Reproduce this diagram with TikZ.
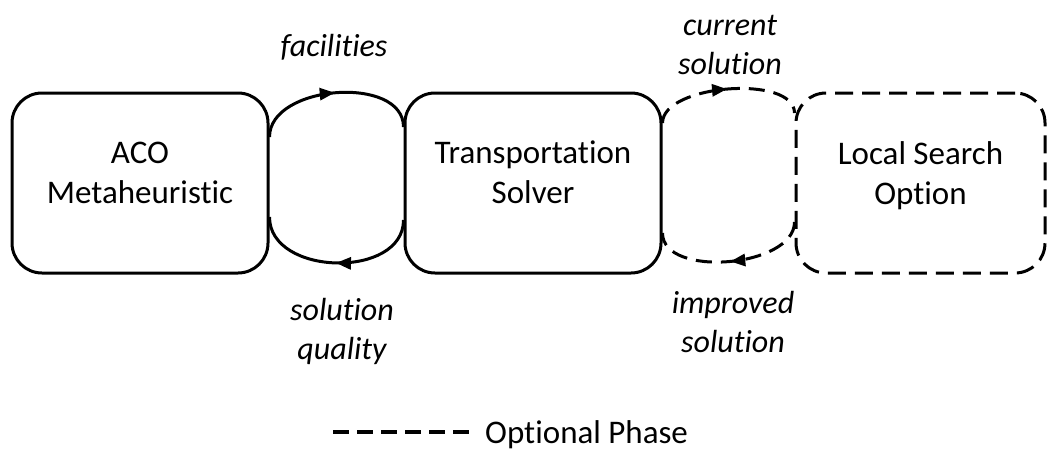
\documentclass[tikz,border=0pt]{standalone}
\usepackage{fontspec}
\setmainfont{Carlito}[RawFeature={-liga}]
\usetikzlibrary{arrows.meta,decorations.markings}
\begin{document}
\begin{tikzpicture}[x=1pt,y=1pt,
  box/.style={draw, line width=3pt, rounded corners=30pt, minimum width=256pt, minimum height=180pt, inner sep=0pt},
  optbox/.style={box, dash pattern=on 18pt off 9pt},
  boxtxt/.style={align=center, inner sep=0pt, font=\fontsize{33}{40}\selectfont},
  lbl/.style={align=center, inner sep=0pt, font=\fontsize{32}{39}\selectfont\itshape},
  link/.style={line width=3pt, postaction={decorate},
    decoration={markings, mark=at position 0.5 with {\arrow{Triangle[length=15pt,width=12pt]}}}},
  optlink/.style={link, dash pattern=on 16pt off 9pt},
  legline/.style={line width=3.5pt, dash pattern=on 16pt off 8pt}]
\useasboundingbox (0,0) rectangle (1048,467);
% boxes
\node[box] (aco) at (140,284) {};
\node[box] (ts) at (533,284) {};
\node[optbox, minimum width=249pt] (ls) at (920.5,284) {};
\node[boxtxt] (acot) at ([yshift=10.5pt]aco.center) {ACO\\Metaheuristic};
\node[boxtxt] (tst) at ([yshift=10.5pt]ts.center) {Transportation\\Solver};
\node[boxtxt] (lst) at ([yshift=7.5pt]ls.center) {Local Search\\Option};
% solid loop
\draw[link] ([yshift=46pt]aco.east) to[out=90,in=90,looseness=1] ([yshift=56pt]ts.west);
\draw[link] ([yshift=-37pt]ts.west) to[out=-90,in=-90,looseness=1.13] ([yshift=-34pt]aco.east);
% dashed loop
\draw[optlink] ([yshift=60pt]ts.east) to[out=90,in=90,looseness=0.75] ([yshift=70pt]ls.west);
\draw[optlink] ([yshift=-39pt]ls.west) to[out=-90,in=-90,looseness=0.88] ([yshift=-50pt]ts.east);
% labels
\node[lbl, anchor=base] (fac) at (334,410) {facilities};
\node[lbl] (cur) at (730,422) {current\\solution};
\node[lbl] (sq) at (342,135.5) {solution\\quality};
\node[lbl] (imp) at (733,145) {improved\\solution};
% legend
\coordinate (l1) at (333,35);
\coordinate (l2) at (473,35);
\draw[legline] (l1) -- (l2);
\node[anchor=base west, inner sep=0pt, font=\fontsize{33}{40}\selectfont] (opt) at (485,24) {Optional Phase};
\end{tikzpicture}
\end{document}
